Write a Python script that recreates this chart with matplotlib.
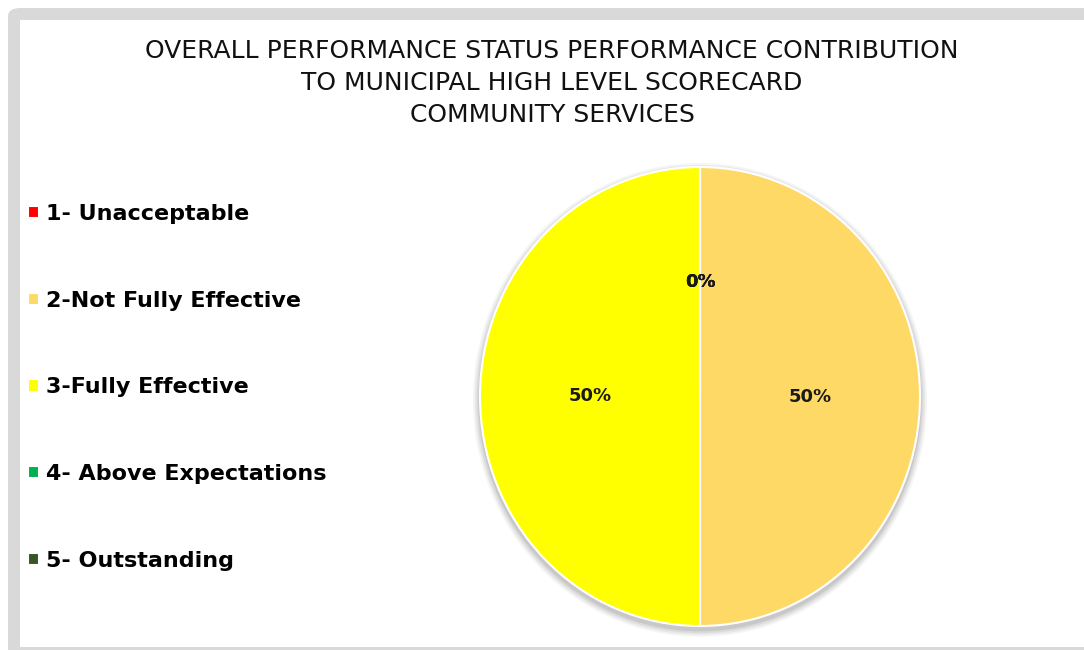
import matplotlib
matplotlib.use("Agg")
from matplotlib import pyplot as plt
from matplotlib.patches import FancyBboxPatch, Rectangle, Ellipse

# chart data
categories = ["1- Unacceptable", "2-Not Fully Effective", "3-Fully Effective",
              "4- Above Expectations", "5- Outstanding"]
shares = [0, 50, 50, 0, 0]
colours = ["#FF0000", "#FFD966", "#FFFF00", "#00B050", "#375623"]
title = ("OVERALL PERFORMANCE STATUS PERFORMANCE CONTRIBUTION\n"
         "TO MUNICIPAL HIGH LEVEL SCORECARD\n"
         "COMMUNITY SERVICES")

W, H = 1084, 650
fig = plt.figure(figsize=(W / 100, H / 100), dpi=100)

# grey frame round the chart area (right side runs off the picture)
fig.patches.append(FancyBboxPatch((8 / W, -0.05), 1.1, (H - 8) / H + 0.05,
                                  boxstyle="round,pad=0,rounding_size=0.012",
                                  transform=fig.transFigure, facecolor="#d9d9d9",
                                  edgecolor="none", zorder=-2))
fig.patches.append(Rectangle((20 / W, 3 / H), 1.1, (H - 23) / H,
                             transform=fig.transFigure, facecolor="white",
                             edgecolor="none", zorder=-1))

fig.text(552 / W, 1 - 83 / H, title, ha="center", va="center", fontsize=18,
         family="DejaVu Sans", linespacing=1.4, color="#111111")

ax = fig.add_axes([480 / W, 24 / H, 440 / W, 459 / H])

# soft shadow, mostly below the pie
for i, a in enumerate([0.04, 0.05, 0.06, 0.08]):
    r = 1.0 + 0.008 * (4 - i)
    ax.add_patch(Ellipse((0, -0.015), 2 * r, 2 * r, facecolor="black",
                         alpha=a, edgecolor="none", zorder=0, clip_on=False))

def fmt(p):
    return "%d%%" % round(p)

wedges, texts, autotexts = ax.pie(shares, colors=colours, startangle=90,
                                  counterclock=False, autopct=fmt, pctdistance=0.5,
                                  wedgeprops=dict(edgecolor="white", linewidth=1.5),
                                  textprops=dict(fontsize=13, fontweight="bold",
                                                 color="#1a1a1a"))
ax.set_aspect("auto")
ax.set_xlim(-1, 1)
ax.set_ylim(-1, 1)
ax.axis("off")

fig.legend(wedges, categories, loc="upper left",
           bbox_to_anchor=(8 / W, 1 - 184 / H), frameon=False,
           handlelength=0.48, handleheight=0.48, handletextpad=0.35,
           labelspacing=3.0, prop=dict(size=16, weight="bold"))

fig.savefig("out.png", dpi=100)
